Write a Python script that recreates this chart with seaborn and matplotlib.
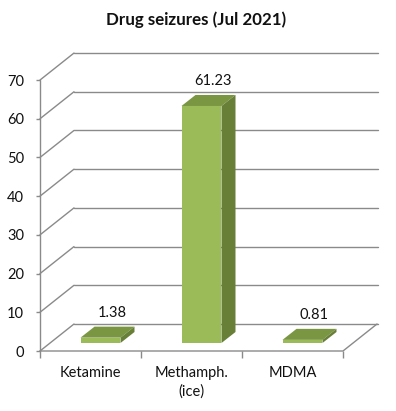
import matplotlib
matplotlib.use("Agg")
import matplotlib.pyplot as plt
import seaborn as sns
import pandas as pd
from matplotlib.patches import Polygon

# data
drugs = ["Ketamine", "Methamph.\n(ice)", "MDMA"]
seizures = [1.38, 61.23, 0.81]
yticks = [0, 10, 20, 30, 40, 50, 60, 70]

df = pd.DataFrame({"drug": drugs, "value": seizures})

sns.set_theme(style="white")
plt.rcParams["font.family"] = ["Lato", "DejaVu Sans"]

fig = plt.figure(figsize=(3.96, 4.11), dpi=100)
ax = fig.add_axes([40 / 396, 60 / 411, 338 / 396, 298 / 411])

front = "#9BBB59"
top_c = "#7A9642"
side_c = "#687F38"
grid_c = "#8A8A8A"
txt_c = "#111111"
fs = 10.5

sns.barplot(data=df, x="drug", y="value", color=front, width=0.396,
            saturation=1, ax=ax, zorder=3)

ymax = 298 / 3.871
ax.set_xlim(-0.5, -0.5 + 338 / 101)
ax.set_ylim(0, ymax)

# 3d offsets in data units
wdx, wdy = 34 / 101, 27 / 3.871      # wall depth
bdx, bdy = 10 / 101, 8 / 3.871       # bar front position in depth
ddx, ddy = 14 / 101, 11 / 3.871      # bar depth

# walls / gridlines
x0, x1 = -0.5, 2.5
for v in yticks:
    ax.plot([x0 + wdx, ax.get_xlim()[1]], [v + wdy, v + wdy], color=grid_c,
            lw=1, zorder=1, clip_on=False)
    ax.plot([x0, x0 + wdx], [v, v + wdy], color=grid_c, lw=1, zorder=1, clip_on=False)
ax.plot([x0, x0], [0, 70], color=grid_c, lw=1, zorder=2, clip_on=False)
ax.plot([x0, x1, x1 + wdx], [0, 0, wdy], color=grid_c, lw=1, zorder=2, clip_on=False)

# shift bars into depth and add top / side faces
for p, v in zip(ax.patches, seizures):
    p.set_x(p.get_x() + bdx)
    p.set_y(bdy)
    p.set_edgecolor("none")
    xa = p.get_x()
    xb = xa + p.get_width()
    t = bdy + v
    ax.add_patch(Polygon([(xa, t), (xb, t), (xb + ddx, t + ddy), (xa + ddx, t + ddy)],
                         closed=True, facecolor=top_c, edgecolor="none", zorder=3))
    ax.add_patch(Polygon([(xb, bdy), (xb + ddx, bdy + ddy), (xb + ddx, t + ddy), (xb, t)],
                         closed=True, facecolor=side_c, edgecolor="none", zorder=3))
    ax.text(xa + p.get_width() / 2 + ddx * 0.85, t + ddy + 3.6, f"{v:.2f}",
            ha="center", va="center", fontsize=fs, color=txt_c, zorder=4)

sns.despine(ax=ax, left=True, bottom=True, right=True, top=True)
ax.set_yticks(yticks)
ax.set_yticklabels([str(v) for v in yticks], fontsize=fs, color=txt_c)
ax.tick_params(axis="y", length=3, width=1, color=grid_c, pad=8.5, left=True)
ax.set_xticks([0, 1, 2])
ax.set_xticklabels(drugs, fontsize=fs, color=txt_c, linespacing=1.45)
ax.set_xticks([-0.5, 0.5, 1.5, 2.5], minor=True)
ax.tick_params(axis="x", which="major", length=0, pad=10.5, bottom=True)
ax.tick_params(axis="x", which="minor", length=5, width=1, color=grid_c, bottom=True)
ax.set_xlabel("")
ax.set_ylabel("")
ax.grid(False)

fig.text(196 / 396, 1 - 20 / 411, "Drug seizures (Jul 2021)", ha="center", va="center",
         fontsize=12.2, fontweight="bold", color=txt_c)

fig.savefig("out.png", dpi=100)
